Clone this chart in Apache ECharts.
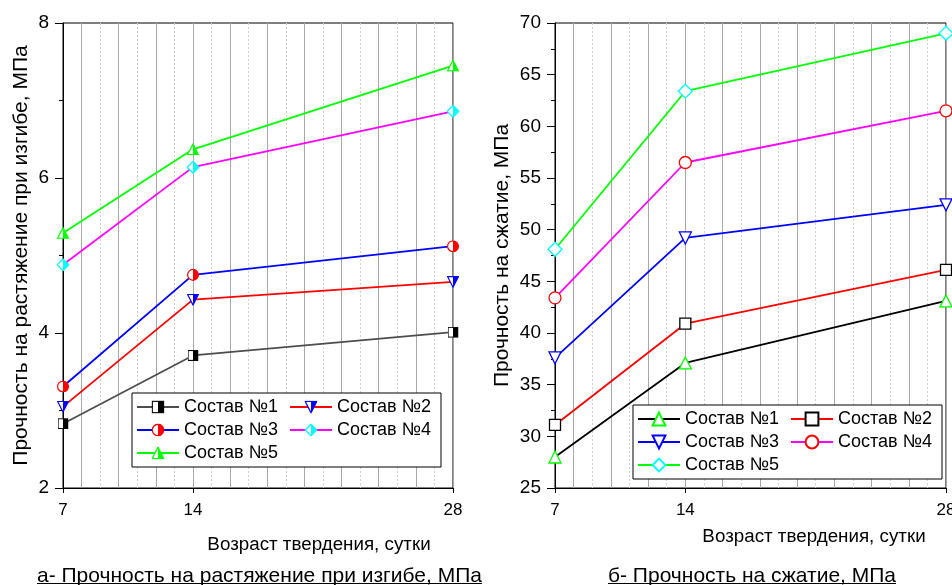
<!DOCTYPE html>
<html><head><meta charset="utf-8">
<script src="https://cdn.jsdelivr.net/npm/echarts@6/dist/echarts.min.js"></script>
<style>html,body{margin:0;padding:0;background:#fff}#c{width:952px;height:585px}</style>
</head><body><div id="c"></div>
<script>
// ---- data ----
const ages = [7, 14, 28];
const xTickLabels = [7, 14, 28];
const seriesNames = ['Состав №1', 'Состав №2', 'Состав №3', 'Состав №4', 'Состав №5'];
// (a) flexural tensile strength, MPa
const flex1 = [2.83, 3.71, 4.01];
const flex2 = [3.05, 4.43, 4.66];
const flex3 = [3.31, 4.75, 5.12];
const flex4 = [4.88, 6.14, 6.86];
const flex5 = [5.29, 6.37, 7.45];
// (b) compressive strength, MPa
const comp1 = [28.0, 37.1, 43.1];
const comp2 = [31.1, 40.9, 46.1];
const comp3 = [37.6, 49.2, 52.4];
const comp4 = [43.4, 56.5, 61.5];
const comp5 = [48.1, 63.4, 69.0];
const flexTicks = [2, 4, 6, 8];
const compTicks = [25, 30, 35, 40, 45, 50, 55, 60, 65, 70];
const xTitle = 'Возраст твердения, сутки';
const yTitleA = 'Прочность на растяжение при изгибе, МПа';
const yTitleB = 'Прочность на сжатие, МПа';
const captionA = 'а- Прочность на растяжение при изгибе, МПа';
const captionB = 'б- Прочность на сжатие, МПа';

// ---- styling ----
const FONT = 'Arial, "Liberation Sans", sans-serif';
function svgUri(svg) { return 'image://data:image/svg+xml;charset=utf-8,' + encodeURIComponent(svg); }
function halfSym(shapeOutline, shapeHalf, color) {
  return svgUri('<svg xmlns="http://www.w3.org/2000/svg" width="48" height="48" viewBox="0 0 12 12">' +
    shapeOutline.replace('%F', '#fff').replace('%S', color) + shapeHalf.replace('%F', color) + '</svg>');
}
const symHalfSquare = halfSym('<rect x="0.6" y="0.6" width="10.8" height="10.8" fill="%F" stroke="%S" stroke-width="1.2"/>',
  '<rect x="6" y="0.6" width="5.4" height="10.8" fill="%F"/>', '#000');
const symHalfDown = halfSym('<polygon points="0.6,0.8 11.4,0.8 6,11.4" fill="%F" stroke="%S" stroke-width="1.2"/>',
  '<polygon points="6,0.8 11.4,0.8 6,11.4" fill="%F"/>', '#0000ff');
const symHalfCircle = halfSym('<circle cx="6" cy="6" r="5.4" fill="%F" stroke="%S" stroke-width="1.2"/>',
  '<path d="M6,0.6 A5.4,5.4 0 0 1 6,11.4 Z" fill="%F"/>', '#ff0000');
const symHalfDiamond = halfSym('<polygon points="6,0.6 11.4,6 6,11.4 0.6,6" fill="%F" stroke="%S" stroke-width="1.2"/>',
  '<polygon points="6,0.6 11.4,6 6,11.4" fill="%F"/>', '#00ffff');
const symHalfUp = halfSym('<polygon points="6,0.6 11.4,11.2 0.6,11.2" fill="%F" stroke="%S" stroke-width="1.2"/>',
  '<polygon points="6,0.6 11.4,11.2 6,11.2" fill="%F"/>', '#00ff00');
const DOWN = 'path://M0,0L10,0L5,10Z';

function pairs(vals) { return ages.map((a, i) => [a, vals[i]]); }

function mkSeries(id, name, vals, grid, lineColor, symbol, itemStyle, size) {
  return {
    id: id, name: name, type: 'line', xAxisIndex: grid * 3, yAxisIndex: grid,
    data: pairs(vals), symbol: symbol, symbolSize: size || 11, showSymbol: true,
    lineStyle: { color: lineColor, width: 1.8 },
    itemStyle: itemStyle, emphasis: { disabled: true }, animation: false, z: 3
  };
}
const hollow = c => ({ color: '#fff', borderColor: c, borderWidth: 1.3, opacity: 1 });
const solid = c => ({ color: c });

const namesA = seriesNames.map(n => 'a|' + n);
const namesB = seriesNames.map(n => 'b|' + n);

const series = [
  mkSeries('a1', namesA[0], flex1, 0, '#4d4d4d', symHalfSquare, solid('#000'), 11),
  mkSeries('a2', namesA[1], flex2, 0, '#ff0000', symHalfDown, solid('#0000ff'), 12),
  mkSeries('a3', namesA[2], flex3, 0, '#0000ff', symHalfCircle, solid('#ff0000'), 12),
  mkSeries('a4', namesA[3], flex4, 0, '#ff00ff', symHalfDiamond, solid('#00ffff'), 13),
  mkSeries('a5', namesA[4], flex5, 0, '#00ff00', symHalfUp, solid('#00ff00'), 12),
  mkSeries('b1', namesB[0], comp1, 1, '#000000', 'triangle', hollow('#00ff00'), 12),
  mkSeries('b2', namesB[1], comp2, 1, '#ff0000', 'rect', hollow('#000000'), 11),
  mkSeries('b3', namesB[2], comp3, 1, '#0000ff', DOWN, hollow('#0000ff'), 12),
  mkSeries('b4', namesB[3], comp4, 1, '#ff00ff', 'circle', hollow('#ff0000'), 12),
  mkSeries('b5', namesB[4], comp5, 1, '#00ff00', 'diamond', hollow('#00ffff'), 14)
];

const xMin = ages[0], xMax = ages[ages.length - 1];
// main axis: dotted grid at odd days
function xMain(grid) {
  return {
    type: 'value', gridIndex: grid, min: xMin, max: xMax, interval: 1,
    axisLine: { show: true, onZero: false, lineStyle: { color: '#000', width: 1 } },
    axisTick: { show: false },
    axisLabel: { show: false },
    splitLine: { show: true, lineStyle: { color: ['#cfcfcf', 'rgba(0,0,0,0)'], type: [2, 2], width: 1 } }
  };
}
// overlay axis: solid grid at even days
function xOverlay(grid) {
  return {
    type: 'value', gridIndex: grid, min: xMin, max: xMax, interval: 1,
    axisLine: { show: false }, axisTick: { show: false }, axisLabel: { show: false },
    splitLine: { show: true, lineStyle: { color: ['rgba(0,0,0,0)', '#a8a8a8'], type: 'solid', width: 1 } }
  };
}
// label axis: labels and ticks only at the listed ages
function xLabels(grid) {
  return {
    type: 'value', gridIndex: grid, min: xMin, max: xMax, interval: 7,
    axisLine: { show: false, onZero: false },
    axisTick: { show: true, length: 5, customValues: xTickLabels, lineStyle: { color: '#000' } },
    axisLabel: {
      show: true, fontSize: 17, fontFamily: FONT, color: '#000', margin: 14,
      showMinLabel: true, showMaxLabel: true,
      formatter: v => (xTickLabels.indexOf(v) >= 0 ? String(v) : '')
    },
    splitLine: { show: false }
  };
}
function yAxis(grid, ticks, name, gap) {
  return {
    type: 'value', gridIndex: grid, min: ticks[0], max: ticks[ticks.length - 1], interval: ticks[1] - ticks[0],
    axisLine: { show: true, onZero: false, lineStyle: { color: '#000', width: 1 } },
    axisTick: { show: true, length: 8, lineStyle: { color: '#000' } },
    minorTick: { show: true, splitNumber: 2, length: 4, lineStyle: { color: '#000' } },
    axisLabel: { fontSize: 19, fontFamily: FONT, color: '#000', margin: 14 },
    splitLine: { show: false },
    name: name, nameLocation: 'middle', nameGap: gap,
    nameTextStyle: { fontSize: 21, fontFamily: FONT, color: '#000' }
  };
}
function legend(names, left, top) {
  return {
    data: names, left: left, top: top, orient: 'horizontal', width: 312,
    padding: [5, 4, 5, 4], borderColor: '#000', borderWidth: 1, backgroundColor: '#fff',
    itemWidth: 42, itemHeight: 16, itemGap: 5, selectedMode: false,
    formatter: n => n.slice(2),
    textStyle: { fontSize: 18, fontFamily: FONT, color: '#000', width: 100, lineHeight: 18 }
  };
}

const chart = echarts.init(document.getElementById('c'), null, { renderer: 'canvas' });

// measure caption widths for underline
const CAP = 21;
const ctx = document.createElement('canvas').getContext('2d');
ctx.font = CAP + 'px ' + FONT;
const wA = ctx.measureText(captionA).width;
const wB = ctx.measureText(captionB).width;

chart.setOption({
  backgroundColor: '#fff',
  animation: false,
  grid: [
    { left: 63, top: 23, width: 390, height: 465, show: true, borderColor: '#000', borderWidth: 1, backgroundColor: 'transparent', outerBoundsMode: 'none' },
    { left: 555, top: 23, width: 391, height: 465, show: true, borderColor: '#000', borderWidth: 1, backgroundColor: 'transparent', outerBoundsMode: 'none' }
  ],
  xAxis: [xMain(0), xOverlay(0), xLabels(0), xMain(1), xOverlay(1), xLabels(1)].map(a => Object.assign(a, { position: 'bottom' })),
  yAxis: [yAxis(0, flexTicks, yTitleA, 31), yAxis(1, compTicks, yTitleB, 42)],
  legend: [legend(namesA, 132, 393), legend(namesB, 633, 405)],
  series: series,
  graphic: [
    { type: 'text', x: 319, y: 545, style: { text: xTitle, fill: '#000', fontSize: 18.8, fontFamily: FONT, align: 'center', verticalAlign: 'middle' } },
    { type: 'text', x: 814, y: 537, style: { text: xTitle, fill: '#000', fontSize: 18.8, fontFamily: FONT, align: 'center', verticalAlign: 'middle' } },
    { type: 'text', x: 37, y: 576, style: { text: captionA, fill: '#000', fontSize: CAP, fontFamily: FONT, align: 'left', verticalAlign: 'middle' } },
    { type: 'line', shape: { x1: 37, y1: 583.5, x2: 37 + wA, y2: 583.5 }, style: { stroke: '#000', lineWidth: 1 } },
    { type: 'text', x: 608, y: 576, style: { text: captionB, fill: '#000', fontSize: CAP, fontFamily: FONT, align: 'left', verticalAlign: 'middle' } },
    { type: 'line', shape: { x1: 608, y1: 583.5, x2: 608 + wB, y2: 583.5 }, style: { stroke: '#000', lineWidth: 1 } }
  ]
});
</script></body></html>
